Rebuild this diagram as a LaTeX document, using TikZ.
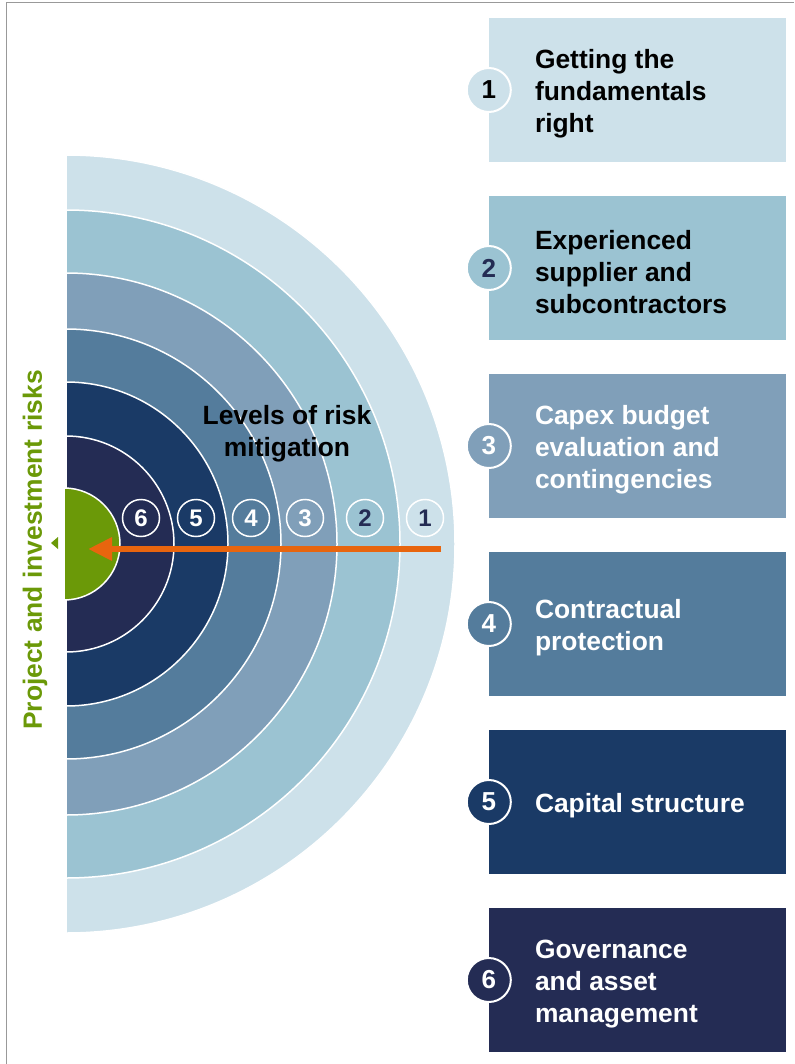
\documentclass[tikz,border=0pt]{standalone}
\usepackage{fontspec}
\setmainfont{Liberation Sans}
\usepackage{xcolor}
\usetikzlibrary{arrows.meta, positioning}

\definecolor{levelone}{HTML}{CDE1EA}
\definecolor{leveltwo}{HTML}{9BC3D2}
\definecolor{levelthree}{HTML}{809FB9}
\definecolor{levelfour}{HTML}{547C9C}
\definecolor{levelfive}{HTML}{1A3A66}
\definecolor{levelsix}{HTML}{242C54}
\definecolor{riskgreen}{HTML}{6B9908}
\definecolor{riskorange}{HTML}{E8650E}

\begin{document}
\begin{tikzpicture}[x=1pt, y=-1pt,
  ring/.style={draw=white, line width=1.5pt},
  lvlnum/.style={circle, draw=white, line width=1.5pt, minimum size=37pt, inner sep=0pt, font=\bfseries\fontsize{24}{24}\selectfont, text=white},
  panel/.style={rectangle, minimum width=297pt, minimum height=144pt, inner sep=0pt},
  paneltext/.style={align=left, inner sep=0pt, font=\bfseries\fontsize{26.4}{32}\selectfont, text=white},
  panellabel/.style={paneltext, yshift=-4pt},
  badge/.style={circle, draw=white, line width=2pt, minimum size=44pt, inner sep=0pt, font=\bfseries\fontsize{26}{26}\selectfont, text=white},
  arrow/.style={-{Triangle[length=24pt, width=22pt]}, line width=6pt, draw=riskorange}
]
\useasboundingbox (0,0) rectangle (794,1064);
\draw[gray!80, line width=1pt] (6,1064) -- (6,2.5) -- (794,2.5);

% rings of mitigation
\path[ring, fill=levelone] (66,155) arc[start angle=-90, end angle=90, radius=389] -- cycle;
\path[ring, fill=leveltwo] (66,210) arc[start angle=-90, end angle=90, radius=334] -- cycle;
\path[ring, fill=levelthree] (66,273) arc[start angle=-90, end angle=90, radius=271] -- cycle;
\path[ring, fill=levelfour] (66,329) arc[start angle=-90, end angle=90, radius=215] -- cycle;
\path[ring, fill=levelfive] (66,382) arc[start angle=-90, end angle=90, radius=162] -- cycle;
\path[ring, fill=levelsix] (66,436) arc[start angle=-90, end angle=90, radius=108] -- cycle;
\path[ring, fill=riskgreen] (64,488) arc[start angle=-90, end angle=90, radius=56] -- cycle;

\node[lvlnum, text=levelsix] (r1) at (425,518) {1};
\node[lvlnum, text=levelsix] (r2) at (365,518) {2};
\node[lvlnum] (r3) at (305,518) {3};
\node[lvlnum] (r4) at (251,518) {4};
\node[lvlnum] (r5) at (196,518) {5};
\node[lvlnum] (r6) at (141,518) {6};

\node[paneltext, align=center, text=black] (title) at (287,434) {Levels of risk\\mitigation};

\coordinate (arrowstart) at (441,549);
\coordinate (arrowend) at (88,549);
\draw[arrow] (arrowstart) -- (arrowend);

\fill[riskgreen] (51,543) -- (58,537) -- (58,549) -- cycle;
\node[paneltext, text=riskgreen, rotate=90] (risks) at (35,550) {Project and investment risks};

% panels on the right
\node[panel, fill=levelone] (p1) at (637.5,90) {};
\node[panel, fill=leveltwo] (p2) at (637.5,268) {};
\node[panel, fill=levelthree] (p3) at (637.5,446) {};
\node[panel, fill=levelfour] (p4) at (637.5,624) {};
\node[panel, fill=levelfive] (p5) at (637.5,802) {};
\node[panel, fill=levelsix] (p6) at (637.5,980) {};

\node[panellabel, text=black, right=46pt of p1.west] (t1) {Getting the\\fundamentals\\right};
\node[panellabel, text=black, right=46pt of p2.west] (t2) {Experienced\\supplier and\\subcontractors};
\node[panellabel, right=46pt of p3.west] (t3) {Capex budget\\evaluation and\\contingencies};
\node[panellabel, right=46pt of p4.west] (t4) {Contractual\\protection};
\node[panellabel, right=46pt of p5.west] (t5) {Capital structure};
\node[panellabel, right=46pt of p6.west] (t6) {Governance\\and asset\\management};

\node[badge, fill=levelone, text=black] (b1) at (p1.west) {1};
\node[badge, fill=leveltwo, text=levelsix] (b2) at (p2.west) {2};
\node[badge, fill=levelthree] (b3) at (p3.west) {3};
\node[badge, fill=levelfour] (b4) at (p4.west) {4};
\node[badge, fill=levelfive] (b5) at (p5.west) {5};
\node[badge, fill=levelsix] (b6) at (p6.west) {6};
\end{tikzpicture}
\end{document}
